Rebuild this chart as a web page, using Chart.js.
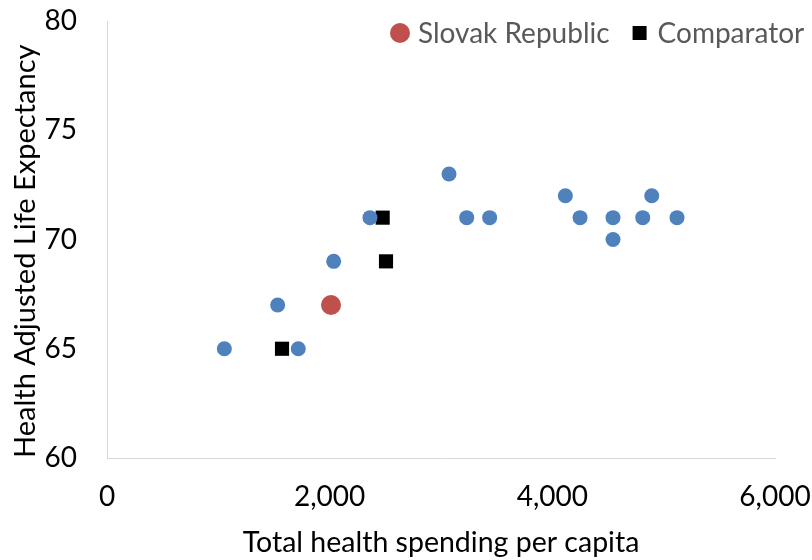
<!DOCTYPE html>
<html>
<head>
<meta charset="utf-8">
<script src="https://cdn.jsdelivr.net/npm/chart.js@4/dist/chart.umd.min.js"></script>
<style>
  body { margin: 0; background: #fff; }
  #wrap { width: 812px; height: 560px; }
</style>
</head>
<body>
<div id="wrap"><canvas id="haleChart"></canvas></div>
<script>
// spending per capita (x) vs health adjusted life expectancy (y)
var otherSpend = [1054, 1533, 1718, 2036, 2362, 3072, 3231, 3437, 4117, 4249, 4545, 4545, 4812, 4893, 5120];
var otherHale  = [65, 67, 65, 69, 71, 73, 71, 71, 72, 71, 71, 70, 71, 72, 71];
var slovakSpend = [2012];
var slovakHale  = [67];
var compSpend = [1572, 2476, 2506];
var compHale  = [65, 71, 69];
var xTicks = [0, 2000, 4000, 6000];
var yTicks = [60, 65, 70, 75, 80];

var FONT = 'Lato, "Open Sans", sans-serif';

function toPoints(xs, ys) {
    return xs.map(function (x, i) { return { x: x, y: ys[i] }; });
}

// legend drawn over the top-right corner of the plot
var cornerLegend = {
    id: 'cornerLegend',
    afterDraw: function (chart) {
        var ctx = chart.ctx;
        var y = 33;
        var x = 390;
        ctx.save();
        ctx.font = '28px ' + FONT;
        ctx.textBaseline = 'middle';
        chart.data.datasets.forEach(function (ds) {
            if (!ds.inLegend) return;
            ctx.fillStyle = ds.backgroundColor;
            if (ds.pointStyle === 'rect') {
                ctx.fillRect(x + 3, y - 7, 14, 14);
            } else {
                ctx.beginPath();
                ctx.arc(x + 10, y, 10, 0, Math.PI * 2);
                ctx.fill();
            }
            ctx.fillStyle = '#595959';
            ctx.fillText(ds.label, x + 28, y + 1);
            x += 28 + ctx.measureText(ds.label).width + 20;
        });
        ctx.restore();
    }
};

var ctx = document.getElementById('haleChart').getContext('2d');
var haleChart = new Chart(ctx, {
    type: 'scatter',
    data: {
        datasets: [
            {
                label: 'Other',
                data: toPoints(otherSpend, otherHale),
                backgroundColor: '#4f81bd',
                borderWidth: 0,
                pointRadius: 7.5,
                inLegend: false
            },
            {
                label: 'Slovak Republic',
                data: toPoints(slovakSpend, slovakHale),
                backgroundColor: '#c0504d',
                borderWidth: 0,
                pointRadius: 10,
                inLegend: true
            },
            {
                label: 'Comparator',
                data: toPoints(compSpend, compHale),
                backgroundColor: '#000000',
                borderWidth: 0,
                pointStyle: 'rect',
                pointRadius: 10,
                inLegend: true
            }
        ]
    },
    options: {
        responsive: true,
        maintainAspectRatio: false,
        animation: false,
        layout: { padding: 0 },
        scales: {
            x: {
                type: 'linear',
                min: 0,
                max: 6000,
                afterBuildTicks: function (scale) {
                    scale.ticks = xTicks.map(function (v) { return { value: v }; });
                },
                afterFit: function (scale) {
                    scale.height = 102;
                    scale.paddingLeft = 0;
                    scale.paddingRight = 37;
                },
                grid: { display: false, drawTicks: false },
                border: { display: true, color: '#d9d9d9', width: 1 },
                ticks: {
                    color: '#000',
                    padding: 22,
                    font: { family: FONT, size: 28 },
                    callback: function (v) { return v.toLocaleString('en-US'); }
                },
                title: {
                    display: true,
                    text: 'Total health spending per capita',
                    color: '#000',
                    font: { family: FONT, size: 28.5 },
                    padding: { top: 0, bottom: 0 }
                }
            },
            y: {
                type: 'linear',
                min: 60,
                max: 80,
                afterBuildTicks: function (scale) {
                    scale.ticks = yTicks.map(function (v) { return { value: v }; });
                },
                afterFit: function (scale) {
                    scale.width = 107;
                    scale.paddingTop = 21;
                    scale.paddingBottom = 0;
                },
                grid: { display: false, drawTicks: false },
                border: { display: true, color: '#d9d9d9', width: 1 },
                ticks: {
                    color: '#000',
                    padding: 30,
                    font: { family: FONT, size: 28 }
                },
                title: {
                    display: true,
                    text: 'Health Adjusted Life Expectancy',
                    align: 'start',
                    color: '#000',
                    font: { family: FONT, size: 29 },
                    padding: { top: 8, bottom: 0 }
                }
            }
        },
        plugins: {
            legend: { display: false },
            tooltip: { enabled: false }
        }
    },
    plugins: [cornerLegend]
});
</script>
</body>
</html>
